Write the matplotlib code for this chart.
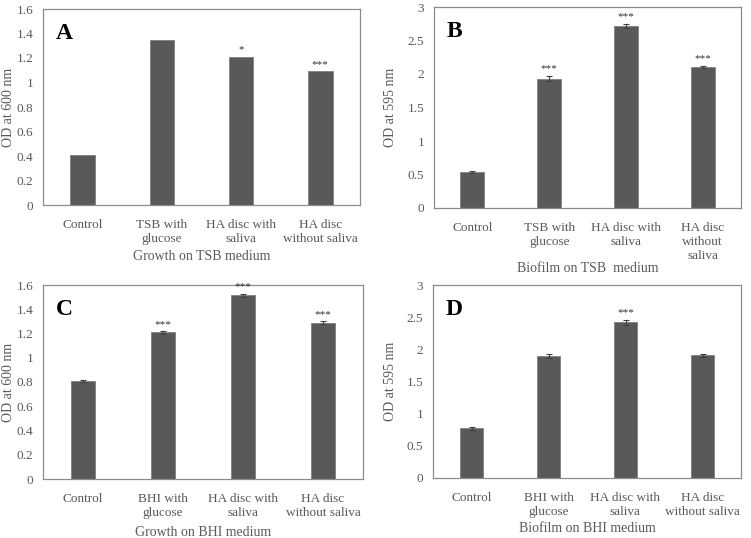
import numpy as np
import matplotlib
matplotlib.use("Agg")
from matplotlib import pyplot as plt

plt.rcParams['font.family'] = ['Liberation Serif', 'DejaVu Serif']

# data
cats_tsb = ['Control', 'TSB with\nglucose', 'HA disc with\nsaliva', 'HA disc\nwithout saliva']
cats_tsb_b = ['Control', 'TSB with\nglucose', 'HA disc with\nsaliva', 'HA disc\nwithout\nsaliva']
cats_bhi = ['Control', 'BHI with\nglucose', 'HA disc with\nsaliva', 'HA disc\nwithout saliva']

growth_tsb = [0.41, 1.35, 1.21, 1.09]
growth_tsb_err = None
growth_tsb_sig = ['', '', '*', '***']

biofilm_tsb = [0.53, 1.93, 2.72, 2.11]
biofilm_tsb_err = [0.015, 0.04, 0.03, 0.015]
biofilm_tsb_sig = ['', '***', '***', '***']

growth_bhi = [0.81, 1.21, 1.515, 1.29]
growth_bhi_err = [0.01, 0.01, 0.012, 0.01]
growth_bhi_sig = ['', '***', '***', '***']

biofilm_bhi = [0.77, 1.90, 2.42, 1.91]
biofilm_bhi_err = [0.02, 0.03, 0.04, 0.025]
biofilm_bhi_sig = ['', '', '***', '']

W, H = 751, 538
fig = plt.figure(figsize=(W / 100, H / 100), dpi=100)

bar_col = '#595959'
txt_col = '#595959'


def px_axes(l, t, r, b):
    return fig.add_axes([l / W, 1 - b / H, (r - l) / W, (b - t) / H])


def panel(ax, cats, vals, errs, sigs, ymax, step, ylabel, xlabel, letter, xlab_y, ylab_x):
    x = np.arange(len(cats))
    ax.bar(x, vals, width=0.31, color=bar_col, edgecolor='#7f7f7f', linewidth=0.6,
           yerr=errs, error_kw=dict(ecolor='#404040', elinewidth=0.8, capsize=2, capthick=0.8))
    if errs is None:
        errs = [0] * len(vals)
    for xi, v, e, s in zip(x, vals, errs, sigs):
        if s:
            ax.text(xi, v + e + ymax * 0.012, s, ha='center', va='bottom', fontsize=8, color='#333333')
    ax.set_xlim(-0.5, len(cats) - 0.5)
    ax.set_ylim(0, ymax)
    ticks = np.arange(0, ymax + step / 2, step)
    ax.set_yticks(ticks)
    ax.set_yticklabels(['%g' % t for t in ticks])
    ax.set_xticks(x)
    ax.set_xticklabels(cats, linespacing=1.25)
    ax.tick_params(axis='x', length=0, labelsize=9.5, colors=txt_col, pad=10)
    ax.tick_params(axis='y', length=0, labelsize=9.5, colors=txt_col, pad=7)
    for sp in ax.spines.values():
        sp.set_color('#8c8c8c')
        sp.set_linewidth(0.9)
    bb = ax.get_position()
    ax.set_ylabel(ylabel, fontsize=10, color=txt_col)
    # label anchor is the right edge of the rotated text
    ax.yaxis.set_label_coords((ylab_x / W - bb.x0) / bb.width, 0.5)
    ax.text(0.04, 0.93, letter, transform=ax.transAxes, fontsize=17, fontweight='bold',
            va='top', ha='left', color='black')
    fig.text((bb.x0 + bb.x1) / 2, 1 - xlab_y / H, xlabel, ha='center', va='center',
             fontsize=10, color=txt_col)


axA = px_axes(43, 9, 360, 205)
panel(axA, cats_tsb, growth_tsb, growth_tsb_err, growth_tsb_sig, 1.6, 0.2,
      'OD at 600 nm', 'Growth on TSB medium', 'A', 256, 15)

axB = px_axes(434, 7, 741, 208)
panel(axB, cats_tsb_b, biofilm_tsb, biofilm_tsb_err, biofilm_tsb_sig, 3, 0.5,
      'OD at 595 nm', 'Biofilm on TSB  medium', 'B', 268, 397)

axC = px_axes(43, 285, 363, 479)
panel(axC, cats_bhi, growth_bhi, growth_bhi_err, growth_bhi_sig, 1.6, 0.2,
      'OD at 600 nm', 'Growth on BHI medium', 'C', 532, 15)

axD = px_axes(433, 285, 741, 478)
panel(axD, cats_bhi, biofilm_bhi, biofilm_bhi_err, biofilm_bhi_sig, 3, 0.5,
      'OD at 595 nm', 'Biofilm on BHI medium', 'D', 529, 397)

fig.savefig('out.png', dpi=100)
